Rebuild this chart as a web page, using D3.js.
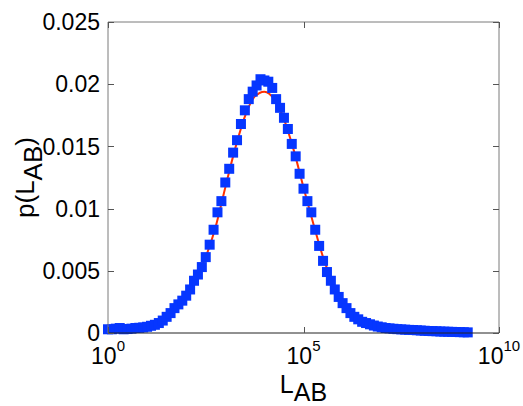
<!DOCTYPE html>
<html>
<head>
<meta charset="utf-8">
<script src="https://cdn.jsdelivr.net/npm/d3@7"></script>
<style>
  body { margin: 0; background: #fff; }
  svg text { font-family: "Liberation Sans", Arial, sans-serif; fill: #000; }
</style>
</head>
<body>
<svg id="chart" width="523" height="406"></svg>
<script>
// histogram bins (log10 of L_AB) and measured probability
const binExp = [0.0, 0.1, 0.2, 0.3, 0.4, 0.5, 0.6, 0.7, 0.8, 0.9,
  1.0, 1.1, 1.2, 1.3, 1.4, 1.5, 1.6, 1.7, 1.8, 1.9,
  2.0, 2.1, 2.2, 2.3, 2.4, 2.5, 2.6, 2.7, 2.8, 2.9,
  3.0, 3.1, 3.2, 3.3, 3.4, 3.5, 3.6, 3.7, 3.8, 3.9,
  4.0, 4.1, 4.2, 4.3, 4.4, 4.5, 4.6, 4.7, 4.8, 4.9,
  5.0, 5.1, 5.2, 5.3, 5.4, 5.5, 5.6, 5.7, 5.8, 5.9,
  6.0, 6.1, 6.2, 6.3, 6.4, 6.5, 6.6, 6.7, 6.8, 6.9,
  7.0, 7.1, 7.2, 7.3, 7.4, 7.5, 7.6, 7.7, 7.8, 7.9,
  8.0, 8.1, 8.2, 8.3, 8.4, 8.5, 8.6, 8.7, 8.8, 8.9,
  9.0, 9.1, 9.2]
const binP = [0.0003, 0.0003, 0.00035, 0.0004, 0.0003, 0.00032, 0.00035, 0.0004, 0.00042, 0.00045,
  0.0005, 0.00058, 0.00066, 0.0008, 0.001, 0.0013, 0.0016, 0.002, 0.0023, 0.0026,
  0.003, 0.0035, 0.0042, 0.0047, 0.0053, 0.0061, 0.0071, 0.0083, 0.0097, 0.0106,
  0.0121, 0.0132, 0.0145, 0.0155, 0.0168, 0.0179, 0.0188, 0.0194, 0.0199, 0.0204,
  0.0203, 0.0202, 0.0197, 0.0188, 0.0181, 0.0173, 0.0164, 0.0152, 0.0142, 0.0128,
  0.0116, 0.0106, 0.0097, 0.0083, 0.007, 0.0058, 0.0049, 0.0042, 0.0035, 0.0029,
  0.0024, 0.002, 0.0016, 0.0013, 0.0011, 0.0009, 0.0008, 0.0007, 0.0006, 0.00052,
  0.00046, 0.0004, 0.00037, 0.00034, 0.00031, 0.00029, 0.00027, 0.00025, 0.00024, 0.00022,
  0.0002, 0.00018, 0.00016, 0.00015, 0.00014, 0.00012, 0.00011, 0.0001, 0.00009, 0.00008,
  0.00007, 0.00006, 0.00005]

// fitted curve (red line under the markers)
const fitExp = [0, 0.5, 1.0, 1.5, 2.0, 2.25, 2.5, 2.75, 3.0, 3.25, 3.5, 3.75, 4.0,
  4.25, 4.5, 4.75, 5.0, 5.25, 5.5, 5.75, 6.0, 6.5, 7.0, 8.0, 9.2]
const fitP = [0.0002, 0.0003, 0.0005, 0.0012, 0.003, 0.0044, 0.0061, 0.0085, 0.0117, 0.0148, 0.0174, 0.019, 0.0194,
  0.0188, 0.0172, 0.0147, 0.0117, 0.0088, 0.0061, 0.004, 0.0025, 0.001, 0.0004, 0.0001, 0.00003]

const yTicks = [0, 0.005, 0.01, 0.015, 0.02, 0.025]
const yTickLabels = ['0', '0.005', '0.01', '0.015', '0.02', '0.025']
const xTickExp = [0, 5, 10]

const margin = { top: 22, right: 24, bottom: 73, left: 108 },
    width = 523 - margin.left - margin.right,
    height = 406 - margin.top - margin.bottom

const svg = d3.select('#chart')
const g = svg.append('g').attr('transform', `translate(${margin.left},${margin.top})`)

const x = d3.scaleLog().domain([1, 1e10]).range([0, width])
const y = d3.scaleLinear().domain([0, 0.025]).range([height, 0])

// fit line
const fitData = fitExp.map((e, i) => ({ L: Math.pow(10, e), p: fitP[i] }))
g.append('path')
    .datum(fitData)
    .attr('fill', 'none')
    .attr('stroke', '#ff3000')
    .attr('stroke-width', 2)
    .attr('d', d3.line().curve(d3.curveMonotoneX).x(d => x(d.L)).y(d => y(d.p)))

// markers
const sz = 10
const pts = binExp.map((e, i) => ({ L: Math.pow(10, e), p: binP[i] }))
g.selectAll('rect.pt')
    .data(pts)
    .enter()
    .append('rect')
    .attr('class', 'pt')
    .attr('x', d => x(d.L) - sz / 2)
    .attr('y', d => y(d.p) - sz / 2)
    .attr('width', sz)
    .attr('height', sz)
    .attr('fill', '#0636ff')

// box
g.append('line').attr('x1', 0).attr('x2', width).attr('y1', 0).attr('y2', 0).attr('stroke', '#7a7a7a')
g.append('line').attr('x1', 0).attr('x2', 0).attr('y1', 0).attr('y2', height).attr('stroke', '#7a7a7a')
g.append('line').attr('x1', width).attr('x2', width).attr('y1', 0).attr('y2', height).attr('stroke', '#7a7a7a')
g.append('line').attr('x1', 0).attr('x2', width).attr('y1', height).attr('y2', height).attr('stroke', '#222')

// y ticks (inside, both sides) and labels
yTicks.forEach((t, i) => {
    const yy = Math.round(y(t)) + 0.5
    g.append('line').attr('x1', 0).attr('x2', 6).attr('y1', yy).attr('y2', yy).attr('stroke', '#555')
    g.append('line').attr('x1', width - 6).attr('x2', width).attr('y1', yy).attr('y2', yy).attr('stroke', '#555')
    g.append('text')
        .attr('x', -8)
        .attr('y', y(t))
        .attr('dy', '0.36em')
        .attr('text-anchor', 'end')
        .style('font-size', '23px')
        .text(yTickLabels[i])
})

// x ticks and labels
xTickExp.forEach(e => {
    const xx = Math.round(x(Math.pow(10, e))) + 0.5
    g.append('line').attr('x1', xx).attr('x2', xx).attr('y1', height).attr('y2', height - 6).attr('stroke', '#555')
    g.append('line').attr('x1', xx).attr('x2', xx).attr('y1', 0).attr('y2', 6).attr('stroke', '#555')
    const t = g.append('text')
        .attr('x', x(Math.pow(10, e)))
        .attr('y', height + 31)
        .attr('text-anchor', 'middle')
        .style('font-size', '23px')
    t.append('tspan').text('10')
    t.append('tspan').attr('dy', -13).style('font-size', '15px').text(e)
})

// axis labels
const xl = g.append('text')
    .attr('x', width / 2)
    .attr('y', height + 60)
    .attr('text-anchor', 'middle')
    .style('font-size', '25px')
xl.append('tspan').text('L')
xl.append('tspan').attr('dy', 8).text('AB')

const yl = svg.append('text')
    .attr('transform', `translate(34,${margin.top + height / 2}) rotate(-90)`)
    .attr('text-anchor', 'middle')
    .style('font-size', '26px')
yl.append('tspan').text('p(L')
yl.append('tspan').attr('dy', 8).text('AB')
yl.append('tspan').attr('dy', -8).text(')')
</script>
</body>
</html>
